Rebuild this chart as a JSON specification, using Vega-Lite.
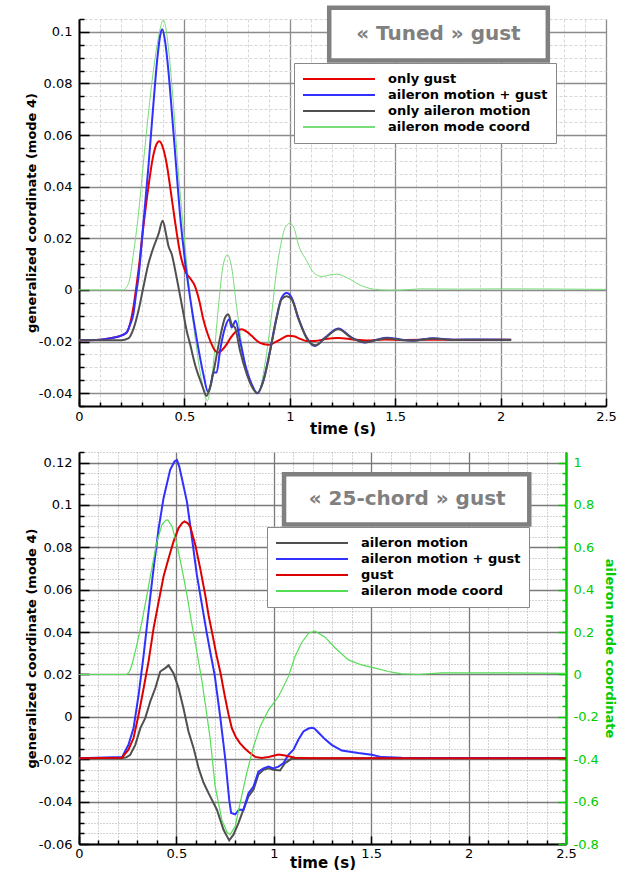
{
  "$schema": "https://vega.github.io/schema/vega-lite/v6.json",
  "background": "white",
  "padding": {"left": 25, "top": 5, "right": 8, "bottom": 0},
  "spacing": 10,
  "config": {
    "font": "DejaVu Sans",
    "view": {"stroke": null},
    "axis": {"labelFont": "DejaVu Sans", "labelFontSize": 13, "labelColor": "#000", "titleFont": "DejaVu Sans", "titleFontWeight": "bold", "titleColor": "#000", "domainColor": "#000", "domainWidth": 2, "tickColor": "#000", "tickWidth": 1.5, "labelFlush": false, "labelOverlap": false, "labelBound": false, "zindex": 0}
  },
  "resolve": {"scale": {"color": "independent"}, "legend": {"color": "independent"}},
  "datasets": {
    "top": [
      {"s":"aileron mode coord","t":0,"v":0},{"s":"aileron mode coord","t":0.21,"v":0},{"s":"aileron mode coord","t":0.225,"v":0.001},{"s":"aileron mode coord","t":0.24,"v":0.004},{"s":"aileron mode coord","t":0.258,"v":0.0139},{"s":"aileron mode coord","t":0.282,"v":0.0294},{"s":"aileron mode coord","t":0.305,"v":0.0488},{"s":"aileron mode coord","t":0.329,"v":0.0682},{"s":"aileron mode coord","t":0.353,"v":0.085},{"s":"aileron mode coord","t":0.377,"v":0.0979},{"s":"aileron mode coord","t":0.4,"v":0.1046},{"s":"aileron mode coord","t":0.412,"v":0.1015},{"s":"aileron mode coord","t":0.424,"v":0.094},{"s":"aileron mode coord","t":0.448,"v":0.072},{"s":"aileron mode coord","t":0.471,"v":0.0462},{"s":"aileron mode coord","t":0.495,"v":0.0242},{"s":"aileron mode coord","t":0.519,"v":0.0035},{"s":"aileron mode coord","t":0.551,"v":-0.0185},{"s":"aileron mode coord","t":0.582,"v":-0.0353},{"s":"aileron mode coord","t":0.609,"v":-0.043},{"s":"aileron mode coord","t":0.623,"v":-0.038},{"s":"aileron mode coord","t":0.637,"v":-0.0288},{"s":"aileron mode coord","t":0.661,"v":-0.0068},{"s":"aileron mode coord","t":0.685,"v":0.01},{"s":"aileron mode coord","t":0.704,"v":0.0136},{"s":"aileron mode coord","t":0.724,"v":0.0087},{"s":"aileron mode coord","t":0.748,"v":-0.0068},{"s":"aileron mode coord","t":0.772,"v":-0.021},{"s":"aileron mode coord","t":0.796,"v":-0.0314},{"s":"aileron mode coord","t":0.827,"v":-0.0379},{"s":"aileron mode coord","t":0.851,"v":-0.0401},{"s":"aileron mode coord","t":0.866,"v":-0.036},{"s":"aileron mode coord","t":0.882,"v":-0.0288},{"s":"aileron mode coord","t":0.914,"v":-0.0094},{"s":"aileron mode coord","t":0.937,"v":0.0074},{"s":"aileron mode coord","t":0.961,"v":0.019},{"s":"aileron mode coord","t":0.98,"v":0.0245},{"s":"aileron mode coord","t":1.0,"v":0.0258},{"s":"aileron mode coord","t":1.02,"v":0.024},{"s":"aileron mode coord","t":1.04,"v":0.0178},{"s":"aileron mode coord","t":1.08,"v":0.0113},{"s":"aileron mode coord","t":1.112,"v":0.0068},{"s":"aileron mode coord","t":1.151,"v":0.0052},{"s":"aileron mode coord","t":1.19,"v":0.0058},{"s":"aileron mode coord","t":1.222,"v":0.0061},{"s":"aileron mode coord","t":1.27,"v":0.0048},{"s":"aileron mode coord","t":1.333,"v":0.0019},{"s":"aileron mode coord","t":1.396,"v":0.0003},{"s":"aileron mode coord","t":1.46,"v":-0.0001},{"s":"aileron mode coord","t":1.522,"v":-0.0001},{"s":"aileron mode coord","t":1.617,"v":0.0004},{"s":"aileron mode coord","t":1.8,"v":0.0003},{"s":"aileron mode coord","t":2.0,"v":0.0004},{"s":"aileron mode coord","t":2.5,"v":0.0002},
      {"s":"only gust","t":0,"v":-0.0195},{"s":"only gust","t":0.1,"v":-0.0193},{"s":"only gust","t":0.15,"v":-0.0187},{"s":"only gust","t":0.2,"v":-0.0177},{"s":"only gust","t":0.226,"v":-0.0165},{"s":"only gust","t":0.24,"v":-0.0138},{"s":"only gust","t":0.258,"v":-0.0068},{"s":"only gust","t":0.27,"v":0.0},{"s":"only gust","t":0.282,"v":0.0074},{"s":"only gust","t":0.305,"v":0.0242},{"s":"only gust","t":0.329,"v":0.0397},{"s":"only gust","t":0.349,"v":0.0507},{"s":"only gust","t":0.365,"v":0.0559},{"s":"only gust","t":0.381,"v":0.0576},{"s":"only gust","t":0.4,"v":0.0546},{"s":"only gust","t":0.416,"v":0.0488},{"s":"only gust","t":0.435,"v":0.0384},{"s":"only gust","t":0.455,"v":0.0268},{"s":"only gust","t":0.479,"v":0.0145},{"s":"only gust","t":0.507,"v":0.0067},{"s":"only gust","t":0.527,"v":0.0045},{"s":"only gust","t":0.55,"v":0.0015},{"s":"only gust","t":0.57,"v":-0.004},{"s":"only gust","t":0.59,"v":-0.0115},{"s":"only gust","t":0.61,"v":-0.017},{"s":"only gust","t":0.629,"v":-0.021},{"s":"only gust","t":0.645,"v":-0.0235},{"s":"only gust","t":0.661,"v":-0.0243},{"s":"only gust","t":0.68,"v":-0.0232},{"s":"only gust","t":0.701,"v":-0.021},{"s":"only gust","t":0.72,"v":-0.0185},{"s":"only gust","t":0.74,"v":-0.0165},{"s":"only gust","t":0.772,"v":-0.0153},{"s":"only gust","t":0.795,"v":-0.0162},{"s":"only gust","t":0.819,"v":-0.0178},{"s":"only gust","t":0.845,"v":-0.0198},{"s":"only gust","t":0.874,"v":-0.021},{"s":"only gust","t":0.898,"v":-0.0213},{"s":"only gust","t":0.92,"v":-0.0207},{"s":"only gust","t":0.945,"v":-0.0197},{"s":"only gust","t":0.97,"v":-0.0185},{"s":"only gust","t":0.993,"v":-0.0178},{"s":"only gust","t":1.02,"v":-0.018},{"s":"only gust","t":1.05,"v":-0.019},{"s":"only gust","t":1.08,"v":-0.0198},{"s":"only gust","t":1.12,"v":-0.0198},{"s":"only gust","t":1.17,"v":-0.019},{"s":"only gust","t":1.23,"v":-0.0186},{"s":"only gust","t":1.3,"v":-0.0192},{"s":"only gust","t":1.365,"v":-0.0196},{"s":"only gust","t":1.45,"v":-0.0192},{"s":"only gust","t":1.55,"v":-0.0194},{"s":"only gust","t":1.7,"v":-0.0193},{"s":"only gust","t":1.85,"v":-0.0194},{"s":"only gust","t":2.05,"v":-0.0193},
      {"s":"aileron motion + gust","t":0,"v":-0.0195},{"s":"aileron motion + gust","t":0.1,"v":-0.0193},{"s":"aileron motion + gust","t":0.15,"v":-0.0187},{"s":"aileron motion + gust","t":0.2,"v":-0.0177},{"s":"aileron motion + gust","t":0.226,"v":-0.0165},{"s":"aileron motion + gust","t":0.242,"v":-0.0135},{"s":"aileron motion + gust","t":0.258,"v":-0.0094},{"s":"aileron motion + gust","t":0.27,"v":-0.002},{"s":"aileron motion + gust","t":0.282,"v":0.0048},{"s":"aileron motion + gust","t":0.305,"v":0.0255},{"s":"aileron motion + gust","t":0.329,"v":0.0475},{"s":"aileron motion + gust","t":0.353,"v":0.0721},{"s":"aileron motion + gust","t":0.372,"v":0.09},{"s":"aileron motion + gust","t":0.385,"v":0.0985},{"s":"aileron motion + gust","t":0.395,"v":0.101},{"s":"aileron motion + gust","t":0.408,"v":0.0966},{"s":"aileron motion + gust","t":0.424,"v":0.085},{"s":"aileron motion + gust","t":0.44,"v":0.0695},{"s":"aileron motion + gust","t":0.46,"v":0.0488},{"s":"aileron motion + gust","t":0.479,"v":0.0294},{"s":"aileron motion + gust","t":0.503,"v":0.0113},{"s":"aileron motion + gust","t":0.527,"v":-0.003},{"s":"aileron motion + gust","t":0.558,"v":-0.0188},{"s":"aileron motion + gust","t":0.59,"v":-0.0327},{"s":"aileron motion + gust","t":0.612,"v":-0.0395},{"s":"aileron motion + gust","t":0.625,"v":-0.037},{"s":"aileron motion + gust","t":0.637,"v":-0.032},{"s":"aileron motion + gust","t":0.653,"v":-0.032},{"s":"aileron motion + gust","t":0.669,"v":-0.0236},{"s":"aileron motion + gust","t":0.693,"v":-0.0146},{"s":"aileron motion + gust","t":0.713,"v":-0.0114},{"s":"aileron motion + gust","t":0.724,"v":-0.0146},{"s":"aileron motion + gust","t":0.743,"v":-0.012},{"s":"aileron motion + gust","t":0.764,"v":-0.0197},{"s":"aileron motion + gust","t":0.788,"v":-0.0288},{"s":"aileron motion + gust","t":0.819,"v":-0.0365},{"s":"aileron motion + gust","t":0.846,"v":-0.0401},{"s":"aileron motion + gust","t":0.874,"v":-0.0353},{"s":"aileron motion + gust","t":0.906,"v":-0.0236},{"s":"aileron motion + gust","t":0.937,"v":-0.0107},{"s":"aileron motion + gust","t":0.961,"v":-0.003},{"s":"aileron motion + gust","t":0.985,"v":-0.0012},{"s":"aileron motion + gust","t":1.009,"v":-0.003},{"s":"aileron motion + gust","t":1.04,"v":-0.0107},{"s":"aileron motion + gust","t":1.08,"v":-0.0185},{"s":"aileron motion + gust","t":1.12,"v":-0.0217},{"s":"aileron motion + gust","t":1.167,"v":-0.0185},{"s":"aileron motion + gust","t":1.23,"v":-0.015},{"s":"aileron motion + gust","t":1.294,"v":-0.0185},{"s":"aileron motion + gust","t":1.357,"v":-0.0204},{"s":"aileron motion + gust","t":1.412,"v":-0.0193},{"s":"aileron motion + gust","t":1.46,"v":-0.0185},{"s":"aileron motion + gust","t":1.54,"v":-0.0194},{"s":"aileron motion + gust","t":1.586,"v":-0.0196},{"s":"aileron motion + gust","t":1.68,"v":-0.0187},{"s":"aileron motion + gust","t":1.776,"v":-0.0193},{"s":"aileron motion + gust","t":1.9,"v":-0.0192},{"s":"aileron motion + gust","t":2.05,"v":-0.0193},
      {"s":"only aileron motion","t":0,"v":-0.0195},{"s":"only aileron motion","t":0.2,"v":-0.0195},{"s":"only aileron motion","t":0.234,"v":-0.0188},{"s":"only aileron motion","t":0.258,"v":-0.0152},{"s":"only aileron motion","t":0.282,"v":-0.0081},{"s":"only aileron motion","t":0.305,"v":0.0009},{"s":"only aileron motion","t":0.329,"v":0.01},{"s":"only aileron motion","t":0.353,"v":0.0164},{"s":"only aileron motion","t":0.377,"v":0.0216},{"s":"only aileron motion","t":0.397,"v":0.0268},{"s":"only aileron motion","t":0.413,"v":0.0216},{"s":"only aileron motion","t":0.424,"v":0.0171},{"s":"only aileron motion","t":0.44,"v":0.0138},{"s":"only aileron motion","t":0.46,"v":0.0061},{"s":"only aileron motion","t":0.479,"v":-0.002},{"s":"only aileron motion","t":0.495,"v":-0.009},{"s":"only aileron motion","t":0.511,"v":-0.0159},{"s":"only aileron motion","t":0.527,"v":-0.021},{"s":"only aileron motion","t":0.55,"v":-0.0288},{"s":"only aileron motion","t":0.582,"v":-0.0365},{"s":"only aileron motion","t":0.605,"v":-0.0411},{"s":"only aileron motion","t":0.617,"v":-0.039},{"s":"only aileron motion","t":0.629,"v":-0.0353},{"s":"only aileron motion","t":0.645,"v":-0.0288},{"s":"only aileron motion","t":0.669,"v":-0.0185},{"s":"only aileron motion","t":0.693,"v":-0.0107},{"s":"only aileron motion","t":0.708,"v":-0.0094},{"s":"only aileron motion","t":0.724,"v":-0.0133},{"s":"only aileron motion","t":0.74,"v":-0.0146},{"s":"only aileron motion","t":0.764,"v":-0.0236},{"s":"only aileron motion","t":0.796,"v":-0.0327},{"s":"only aileron motion","t":0.827,"v":-0.0385},{"s":"only aileron motion","t":0.846,"v":-0.04},{"s":"only aileron motion","t":0.874,"v":-0.0355},{"s":"only aileron motion","t":0.906,"v":-0.024},{"s":"only aileron motion","t":0.937,"v":-0.0112},{"s":"only aileron motion","t":0.961,"v":-0.0037},{"s":"only aileron motion","t":0.985,"v":-0.0025},{"s":"only aileron motion","t":1.009,"v":-0.0037},{"s":"only aileron motion","t":1.04,"v":-0.011},{"s":"only aileron motion","t":1.08,"v":-0.0187},{"s":"only aileron motion","t":1.12,"v":-0.0215},{"s":"only aileron motion","t":1.167,"v":-0.0187},{"s":"only aileron motion","t":1.23,"v":-0.0153},{"s":"only aileron motion","t":1.294,"v":-0.0187},{"s":"only aileron motion","t":1.357,"v":-0.0203},{"s":"only aileron motion","t":1.412,"v":-0.0194},{"s":"only aileron motion","t":1.46,"v":-0.0187},{"s":"only aileron motion","t":1.54,"v":-0.0195},{"s":"only aileron motion","t":1.586,"v":-0.0197},{"s":"only aileron motion","t":1.68,"v":-0.0188},{"s":"only aileron motion","t":1.776,"v":-0.0194},{"s":"only aileron motion","t":1.9,"v":-0.0193},{"s":"only aileron motion","t":2.05,"v":-0.0194}
    ],
    "bottom": [
      {"s":"aileron motion","t":0,"v":-0.0195},{"s":"aileron motion","t":0.22,"v":-0.0195},{"s":"aileron motion","t":0.245,"v":-0.019},{"s":"aileron motion","t":0.263,"v":-0.0179},{"s":"aileron motion","t":0.289,"v":-0.0132},{"s":"aileron motion","t":0.315,"v":-0.0053},{"s":"aileron motion","t":0.34,"v":-0.0006},{"s":"aileron motion","t":0.366,"v":0.0073},{"s":"aileron motion","t":0.392,"v":0.0136},{"s":"aileron motion","t":0.417,"v":0.0214},{"s":"aileron motion","t":0.443,"v":0.023},{"s":"aileron motion","t":0.46,"v":0.0243},{"s":"aileron motion","t":0.485,"v":0.0206},{"s":"aileron motion","t":0.511,"v":0.0136},{"s":"aileron motion","t":0.536,"v":0.0042},{"s":"aileron motion","t":0.562,"v":-0.0069},{"s":"aileron motion","t":0.588,"v":-0.0147},{"s":"aileron motion","t":0.614,"v":-0.0242},{"s":"aileron motion","t":0.639,"v":-0.031},{"s":"aileron motion","t":0.665,"v":-0.036},{"s":"aileron motion","t":0.708,"v":-0.0438},{"s":"aileron motion","t":0.742,"v":-0.0533},{"s":"aileron motion","t":0.771,"v":-0.0583},{"s":"aileron motion","t":0.793,"v":-0.0556},{"s":"aileron motion","t":0.819,"v":-0.05},{"s":"aileron motion","t":0.844,"v":-0.0438},{"s":"aileron motion","t":0.87,"v":-0.0375},{"s":"aileron motion","t":0.896,"v":-0.0343},{"s":"aileron motion","t":0.921,"v":-0.0272},{"s":"aileron motion","t":0.947,"v":-0.025},{"s":"aileron motion","t":0.973,"v":-0.0243},{"s":"aileron motion","t":0.998,"v":-0.025},{"s":"aileron motion","t":1.032,"v":-0.0253},{"s":"aileron motion","t":1.058,"v":-0.0218},{"s":"aileron motion","t":1.09,"v":-0.0198},{"s":"aileron motion","t":1.2,"v":-0.0195},{"s":"aileron motion","t":2.5,"v":-0.0195},
      {"s":"aileron motion + gust","t":0,"v":-0.0195},{"s":"aileron motion + gust","t":0.221,"v":-0.019},{"s":"aileron motion + gust","t":0.254,"v":-0.0132},{"s":"aileron motion + gust","t":0.28,"v":-0.0053},{"s":"aileron motion + gust","t":0.306,"v":0.0104},{"s":"aileron motion + gust","t":0.332,"v":0.0293},{"s":"aileron motion + gust","t":0.357,"v":0.0497},{"s":"aileron motion + gust","t":0.383,"v":0.0702},{"s":"aileron motion + gust","t":0.409,"v":0.089},{"s":"aileron motion + gust","t":0.434,"v":0.1032},{"s":"aileron motion + gust","t":0.468,"v":0.1166},{"s":"aileron motion + gust","t":0.49,"v":0.1205},{"s":"aileron motion + gust","t":0.503,"v":0.1212},{"s":"aileron motion + gust","t":0.515,"v":0.118},{"s":"aileron motion + gust","t":0.528,"v":0.1126},{"s":"aileron motion + gust","t":0.554,"v":0.1016},{"s":"aileron motion + gust","t":0.58,"v":0.0843},{"s":"aileron motion + gust","t":0.605,"v":0.067},{"s":"aileron motion + gust","t":0.631,"v":0.053},{"s":"aileron motion + gust","t":0.655,"v":0.04},{"s":"aileron motion + gust","t":0.675,"v":0.03},{"s":"aileron motion + gust","t":0.696,"v":0.02},{"s":"aileron motion + gust","t":0.725,"v":0.0},{"s":"aileron motion + gust","t":0.751,"v":-0.02},{"s":"aileron motion + gust","t":0.771,"v":-0.0391},{"s":"aileron motion + gust","t":0.781,"v":-0.0454},{"s":"aileron motion + gust","t":0.802,"v":-0.046},{"s":"aileron motion + gust","t":0.822,"v":-0.0437},{"s":"aileron motion + gust","t":0.844,"v":-0.044},{"s":"aileron motion + gust","t":0.87,"v":-0.036},{"s":"aileron motion + gust","t":0.896,"v":-0.0329},{"s":"aileron motion + gust","t":0.921,"v":-0.0258},{"s":"aileron motion + gust","t":0.947,"v":-0.0243},{"s":"aileron motion + gust","t":0.973,"v":-0.0235},{"s":"aileron motion + gust","t":0.998,"v":-0.0243},{"s":"aileron motion + gust","t":1.024,"v":-0.0235},{"s":"aileron motion + gust","t":1.05,"v":-0.0218},{"s":"aileron motion + gust","t":1.075,"v":-0.0179},{"s":"aileron motion + gust","t":1.101,"v":-0.0155},{"s":"aileron motion + gust","t":1.126,"v":-0.0108},{"s":"aileron motion + gust","t":1.152,"v":-0.0069},{"s":"aileron motion + gust","t":1.178,"v":-0.0055},{"s":"aileron motion + gust","t":1.195,"v":-0.0052},{"s":"aileron motion + gust","t":1.208,"v":-0.0054},{"s":"aileron motion + gust","t":1.23,"v":-0.0075},{"s":"aileron motion + gust","t":1.262,"v":-0.0105},{"s":"aileron motion + gust","t":1.297,"v":-0.0132},{"s":"aileron motion + gust","t":1.349,"v":-0.0159},{"s":"aileron motion + gust","t":1.434,"v":-0.0171},{"s":"aileron motion + gust","t":1.503,"v":-0.0179},{"s":"aileron motion + gust","t":1.554,"v":-0.019},{"s":"aileron motion + gust","t":1.656,"v":-0.0193},{"s":"aileron motion + gust","t":2.5,"v":-0.0194},
      {"s":"gust","t":0,"v":-0.0195},{"s":"gust","t":0.22,"v":-0.0193},{"s":"gust","t":0.254,"v":-0.0155},{"s":"gust","t":0.28,"v":-0.01},{"s":"gust","t":0.306,"v":0.001},{"s":"gust","t":0.332,"v":0.0136},{"s":"gust","t":0.357,"v":0.0261},{"s":"gust","t":0.383,"v":0.0419},{"s":"gust","t":0.409,"v":0.0544},{"s":"gust","t":0.434,"v":0.0662},{"s":"gust","t":0.46,"v":0.0749},{"s":"gust","t":0.485,"v":0.0827},{"s":"gust","t":0.511,"v":0.0891},{"s":"gust","t":0.53,"v":0.0915},{"s":"gust","t":0.542,"v":0.0922},{"s":"gust","t":0.557,"v":0.0915},{"s":"gust","t":0.571,"v":0.0898},{"s":"gust","t":0.597,"v":0.0811},{"s":"gust","t":0.622,"v":0.0702},{"s":"gust","t":0.648,"v":0.0576},{"s":"gust","t":0.665,"v":0.048},{"s":"gust","t":0.685,"v":0.039},{"s":"gust","t":0.705,"v":0.0295},{"s":"gust","t":0.728,"v":0.02},{"s":"gust","t":0.748,"v":0.01},{"s":"gust","t":0.768,"v":0.001},{"s":"gust","t":0.785,"v":-0.0055},{"s":"gust","t":0.805,"v":-0.0095},{"s":"gust","t":0.827,"v":-0.0125},{"s":"gust","t":0.85,"v":-0.0148},{"s":"gust","t":0.87,"v":-0.0165},{"s":"gust","t":0.904,"v":-0.0189},{"s":"gust","t":0.938,"v":-0.0194},{"s":"gust","t":0.973,"v":-0.0189},{"s":"gust","t":1.024,"v":-0.0178},{"s":"gust","t":1.058,"v":-0.0182},{"s":"gust","t":1.109,"v":-0.0193},{"s":"gust","t":1.2,"v":-0.0195},{"s":"gust","t":2.5,"v":-0.0195},
      {"s":"aileron mode coord","t":0,"v":0},{"s":"aileron mode coord","t":0.246,"v":0},{"s":"aileron mode coord","t":0.26,"v":0.015},{"s":"aileron mode coord","t":0.272,"v":0.046},{"s":"aileron mode coord","t":0.297,"v":0.14},{"s":"aileron mode coord","t":0.323,"v":0.25},{"s":"aileron mode coord","t":0.349,"v":0.376},{"s":"aileron mode coord","t":0.374,"v":0.502},{"s":"aileron mode coord","t":0.4,"v":0.627},{"s":"aileron mode coord","t":0.426,"v":0.706},{"s":"aileron mode coord","t":0.445,"v":0.728},{"s":"aileron mode coord","t":0.456,"v":0.73},{"s":"aileron mode coord","t":0.477,"v":0.7},{"s":"aileron mode coord","t":0.503,"v":0.612},{"s":"aileron mode coord","t":0.528,"v":0.502},{"s":"aileron mode coord","t":0.554,"v":0.376},{"s":"aileron mode coord","t":0.58,"v":0.234},{"s":"aileron mode coord","t":0.605,"v":0.108},{"s":"aileron mode coord","t":0.631,"v":-0.03},{"s":"aileron mode coord","t":0.65,"v":-0.15},{"s":"aileron mode coord","t":0.673,"v":-0.3},{"s":"aileron mode coord","t":0.699,"v":-0.528},{"s":"aileron mode coord","t":0.733,"v":-0.685},{"s":"aileron mode coord","t":0.76,"v":-0.745},{"s":"aileron mode coord","t":0.776,"v":-0.756},{"s":"aileron mode coord","t":0.802,"v":-0.717},{"s":"aileron mode coord","t":0.827,"v":-0.607},{"s":"aileron mode coord","t":0.861,"v":-0.465},{"s":"aileron mode coord","t":0.896,"v":-0.34},{"s":"aileron mode coord","t":0.93,"v":-0.245},{"s":"aileron mode coord","t":0.973,"v":-0.167},{"s":"aileron mode coord","t":1.024,"v":-0.104},{"s":"aileron mode coord","t":1.075,"v":-0.009},{"s":"aileron mode coord","t":1.109,"v":0.085},{"s":"aileron mode coord","t":1.143,"v":0.15},{"s":"aileron mode coord","t":1.178,"v":0.195},{"s":"aileron mode coord","t":1.212,"v":0.204},{"s":"aileron mode coord","t":1.263,"v":0.176},{"s":"aileron mode coord","t":1.315,"v":0.125},{"s":"aileron mode coord","t":1.383,"v":0.069},{"s":"aileron mode coord","t":1.451,"v":0.045},{"s":"aileron mode coord","t":1.52,"v":0.03},{"s":"aileron mode coord","t":1.588,"v":0.014},{"s":"aileron mode coord","t":1.656,"v":0.003},{"s":"aileron mode coord","t":1.741,"v":0.0},{"s":"aileron mode coord","t":1.862,"v":0.008},{"s":"aileron mode coord","t":2.169,"v":0.008},{"s":"aileron mode coord","t":2.5,"v":0.005}
    ]
  },
  "vconcat": [
    {
      "width": 527,
      "height": 387,
      "layer": [
        {
          "encoding": {
            "x": {"field": "t", "type": "quantitative", "scale": {"domain": [0, 2.5], "nice": false, "zero": false},
              "axis": {"title": "time (s)", "titleFontSize": 15, "titlePadding": -6, "labelOverlap": false, "labelFlush": false, "zindex": 0, "values": [0,0.1,0.2,0.3,0.4,0.5,0.6,0.7,0.8,0.9,1,1.1,1.2,1.3,1.4,1.5,1.6,1.7,1.8,1.9,2,2.1,2.2,2.3,2.4,2.5], "grid": true, "gridColor": {"condition": {"test": "abs(datum.value*2-round(datum.value*2))<0.001", "value": "#8c8c8c"}, "value": "#d6d6d6"}, "gridDash": {"condition": {"test": "abs(datum.value*2-round(datum.value*2))<0.001", "value": []}, "value": [3, 2]}, "gridWidth": {"condition": {"test": "abs(datum.value*2-round(datum.value*2))<0.001", "value": 1.3}, "value": 1}, "tickSize": {"condition": {"test": "abs(datum.value*2-round(datum.value*2))<0.001", "value": -8}, "value": -4}, "labelPadding": 12, "labelExpr": "abs(datum.value*2-round(datum.value*2))<0.001 ? ''+datum.value : ''"}},
            "y": {"field": "v", "type": "quantitative", "scale": {"domain": [-0.045, 0.105], "nice": false, "zero": false},
              "axis": {"title": "generalized coordinate (mode 4)", "titleFontSize": 13, "titlePadding": 0, "labelOverlap": false, "zindex": 0, "values": [-0.045,-0.04,-0.035,-0.03,-0.025,-0.02,-0.015,-0.01,-0.005,0,0.005,0.01,0.015,0.02,0.025,0.03,0.035,0.04,0.045,0.05,0.055,0.06,0.065,0.07,0.075,0.08,0.085,0.09,0.095,0.1,0.105], "grid": true, "gridColor": {"condition": {"test": "abs(datum.value*50-round(datum.value*50))<0.001", "value": "#8c8c8c"}, "value": "#d6d6d6"}, "gridDash": {"condition": {"test": "abs(datum.value*50-round(datum.value*50))<0.001", "value": []}, "value": [3, 2]}, "gridWidth": {"condition": {"test": "abs(datum.value*50-round(datum.value*50))<0.001", "value": 1.3}, "value": 1}, "tickSize": {"condition": {"test": "abs(datum.value*50-round(datum.value*50))<0.001", "value": -10}, "value": -5}, "labelPadding": 17, "labelExpr": "abs(datum.value*50-round(datum.value*50))<0.001 ? ''+datum.value : ''"}}
          },
          "layer": [
            {
              "data": {"name": "top"},
              "transform": [{"filter": "datum.s === 'aileron mode coord'"}],
              "mark": {"type": "line", "clip": true, "interpolate": "monotone", "strokeWidth": 1},
              "encoding": {
                "color": {"field": "s", "type": "nominal",
                  "scale": {"domain": ["only gust", "aileron motion + gust", "only aileron motion", "aileron mode coord"], "range": ["#e60000", "#3030ff", "#505050", "#78dc78"]},
                  "legend": {"title": null, "orient": "none", "legendX": 215, "legendY": 44, "direction": "vertical", "symbolType": "stroke", "symbolSize": 5184, "clipHeight": 16, "labelFont": "DejaVu Sans", "labelFontWeight": "bold", "labelFontSize": 13, "labelColor": "#000", "labelOffset": 12, "padding": 8, "rowPadding": 0, "strokeColor": "#888", "fillColor": "white", "symbolStrokeWidth": 2}}
              }
            },
            {
              "data": {"name": "top"},
              "transform": [{"filter": "datum.s !== 'aileron mode coord'"}],
              "mark": {"type": "line", "clip": true, "interpolate": "monotone", "strokeWidth": 2},
              "encoding": {"color": {"field": "s", "type": "nominal"}}
            }
          ]
        },
        {
          "data": {"values": [{}]},
          "mark": {"type": "rect", "fill": "white", "stroke": "#808080", "strokeWidth": 4.5, "clip": false},
          "encoding": {
            "x": {"datum": 1.187, "type": "quantitative",
              "axis": {"title": "time (s)", "titleFontSize": 15, "titlePadding": -6, "labelOverlap": false, "labelFlush": false, "zindex": 0, "values": [0,0.1,0.2,0.3,0.4,0.5,0.6,0.7,0.8,0.9,1,1.1,1.2,1.3,1.4,1.5,1.6,1.7,1.8,1.9,2,2.1,2.2,2.3,2.4,2.5], "grid": true, "gridColor": {"condition": {"test": "abs(datum.value*2-round(datum.value*2))<0.001", "value": "#8c8c8c"}, "value": "#d6d6d6"}, "gridDash": {"condition": {"test": "abs(datum.value*2-round(datum.value*2))<0.001", "value": []}, "value": [3, 2]}, "gridWidth": {"condition": {"test": "abs(datum.value*2-round(datum.value*2))<0.001", "value": 1.3}, "value": 1}, "tickSize": {"condition": {"test": "abs(datum.value*2-round(datum.value*2))<0.001", "value": -8}, "value": -4}, "labelPadding": 12, "labelExpr": "abs(datum.value*2-round(datum.value*2))<0.001 ? ''+datum.value : ''"}},
            "x2": {"datum": 2.224},
            "y": {"datum": 0.10933, "type": "quantitative",
              "axis": {"title": "generalized coordinate (mode 4)", "titleFontSize": 13, "titlePadding": 0, "labelOverlap": false, "zindex": 0, "values": [-0.045,-0.04,-0.035,-0.03,-0.025,-0.02,-0.015,-0.01,-0.005,0,0.005,0.01,0.015,0.02,0.025,0.03,0.035,0.04,0.045,0.05,0.055,0.06,0.065,0.07,0.075,0.08,0.085,0.09,0.095,0.1,0.105], "grid": true, "gridColor": {"condition": {"test": "abs(datum.value*50-round(datum.value*50))<0.001", "value": "#8c8c8c"}, "value": "#d6d6d6"}, "gridDash": {"condition": {"test": "abs(datum.value*50-round(datum.value*50))<0.001", "value": []}, "value": [3, 2]}, "gridWidth": {"condition": {"test": "abs(datum.value*50-round(datum.value*50))<0.001", "value": 1.3}, "value": 1}, "tickSize": {"condition": {"test": "abs(datum.value*50-round(datum.value*50))<0.001", "value": -10}, "value": -5}, "labelPadding": 17, "labelExpr": "abs(datum.value*50-round(datum.value*50))<0.001 ? ''+datum.value : ''"}},
            "y2": {"datum": 0.08896}
          }
        },
        {
          "data": {"values": [{}]},
          "mark": {"type": "text", "font": "DejaVu Sans", "fontWeight": "bold", "fontSize": 20, "color": "#808080", "align": "center", "baseline": "middle"},
          "encoding": {
            "x": {"datum": 1.705, "type": "quantitative",
              "axis": {"title": "time (s)", "titleFontSize": 15, "titlePadding": -6, "labelOverlap": false, "labelFlush": false, "zindex": 0, "values": [0,0.1,0.2,0.3,0.4,0.5,0.6,0.7,0.8,0.9,1,1.1,1.2,1.3,1.4,1.5,1.6,1.7,1.8,1.9,2,2.1,2.2,2.3,2.4,2.5], "grid": true, "gridColor": {"condition": {"test": "abs(datum.value*2-round(datum.value*2))<0.001", "value": "#8c8c8c"}, "value": "#d6d6d6"}, "gridDash": {"condition": {"test": "abs(datum.value*2-round(datum.value*2))<0.001", "value": []}, "value": [3, 2]}, "gridWidth": {"condition": {"test": "abs(datum.value*2-round(datum.value*2))<0.001", "value": 1.3}, "value": 1}, "tickSize": {"condition": {"test": "abs(datum.value*2-round(datum.value*2))<0.001", "value": -8}, "value": -4}, "labelPadding": 12, "labelExpr": "abs(datum.value*2-round(datum.value*2))<0.001 ? ''+datum.value : ''"}},
            "y": {"datum": 0.0993, "type": "quantitative",
              "axis": {"title": "generalized coordinate (mode 4)", "titleFontSize": 13, "titlePadding": 0, "labelOverlap": false, "zindex": 0, "values": [-0.045,-0.04,-0.035,-0.03,-0.025,-0.02,-0.015,-0.01,-0.005,0,0.005,0.01,0.015,0.02,0.025,0.03,0.035,0.04,0.045,0.05,0.055,0.06,0.065,0.07,0.075,0.08,0.085,0.09,0.095,0.1,0.105], "grid": true, "gridColor": {"condition": {"test": "abs(datum.value*50-round(datum.value*50))<0.001", "value": "#8c8c8c"}, "value": "#d6d6d6"}, "gridDash": {"condition": {"test": "abs(datum.value*50-round(datum.value*50))<0.001", "value": []}, "value": [3, 2]}, "gridWidth": {"condition": {"test": "abs(datum.value*50-round(datum.value*50))<0.001", "value": 1.3}, "value": 1}, "tickSize": {"condition": {"test": "abs(datum.value*50-round(datum.value*50))<0.001", "value": -10}, "value": -5}, "labelPadding": 17, "labelExpr": "abs(datum.value*50-round(datum.value*50))<0.001 ? ''+datum.value : ''"}},
            "text": {"value": "« Tuned » gust"}
          }
        }
      ]
    },
    {
      "width": 487,
      "height": 392,
      "layer": [
        {
          "layer": [
            {
              "data": {"name": "bottom"},
              "transform": [{"filter": "datum.s !== 'aileron mode coord'"}],
              "mark": {"type": "line", "clip": true, "strokeWidth": 2},
              "encoding": {
                "x": {"field": "t", "type": "quantitative", "scale": {"domain": [0, 2.5], "nice": false, "zero": false},
                  "axis": {"title": "time (s)", "titleFontSize": 15, "titlePadding": -9, "labelOverlap": false, "labelFlush": false, "zindex": 0, "values": [0,0.1,0.2,0.3,0.4,0.5,0.6,0.7,0.8,0.9,1,1.1,1.2,1.3,1.4,1.5,1.6,1.7,1.8,1.9,2,2.1,2.2,2.3,2.4,2.5], "grid": true, "gridColor": {"condition": {"test": "abs(datum.value*2-round(datum.value*2))<0.001", "value": "#7a7a7a"}, "value": "#a8a8a8"}, "gridDash": {"condition": {"test": "abs(datum.value*2-round(datum.value*2))<0.001", "value": []}, "value": [1, 2]}, "gridWidth": {"condition": {"test": "abs(datum.value*2-round(datum.value*2))<0.001", "value": 1.3}, "value": 1}, "tickSize": {"condition": {"test": "abs(datum.value*2-round(datum.value*2))<0.001", "value": -8}, "value": -4}, "labelPadding": 11, "labelExpr": "abs(datum.value*2-round(datum.value*2))<0.001 ? ''+datum.value : ''"}},
                "y": {"field": "v", "type": "quantitative", "scale": {"domain": [-0.06, 0.125], "nice": false, "zero": false},
                  "axis": {"title": "generalized coordinate (mode 4)", "titleFontSize": 13, "titlePadding": 0, "labelOverlap": false, "zindex": 0, "values": [-0.06,-0.055,-0.05,-0.045,-0.04,-0.035,-0.03,-0.025,-0.02,-0.015,-0.01,-0.005,0,0.005,0.01,0.015,0.02,0.025,0.03,0.035,0.04,0.045,0.05,0.055,0.06,0.065,0.07,0.075,0.08,0.085,0.09,0.095,0.1,0.105,0.11,0.115,0.12,0.125], "grid": true, "gridColor": {"condition": {"test": "abs(datum.value*50-round(datum.value*50))<0.001", "value": "#7a7a7a"}, "value": "#a8a8a8"}, "gridDash": {"condition": {"test": "abs(datum.value*50-round(datum.value*50))<0.001", "value": []}, "value": [1, 2]}, "gridWidth": {"condition": {"test": "abs(datum.value*50-round(datum.value*50))<0.001", "value": 1.3}, "value": 1}, "tickSize": {"condition": {"test": "abs(datum.value*50-round(datum.value*50))<0.001", "value": -10}, "value": -5}, "labelPadding": 17, "labelExpr": "abs(datum.value*50-round(datum.value*50))<0.001 ? ''+datum.value : ''"}},
                "color": {"field": "s", "type": "nominal",
                  "scale": {"domain": ["aileron motion", "aileron motion + gust", "gust", "aileron mode coord"], "range": ["#505050", "#3030ff", "#dd0000", "#55dd55"]},
                  "legend": {"title": null, "orient": "none", "legendX": 188, "legendY": 75, "direction": "vertical", "symbolType": "stroke", "symbolSize": 5184, "clipHeight": 16, "labelFont": "DejaVu Sans", "labelFontWeight": "bold", "labelFontSize": 13, "labelColor": "#000", "labelOffset": 12, "padding": 8, "rowPadding": 0, "strokeColor": "#888", "fillColor": "white", "symbolStrokeWidth": 2}}
              }
            },
            {
              "data": {"values": [{}]},
              "mark": {"type": "rect", "fill": "white", "stroke": "#808080", "strokeWidth": 4.5, "clip": false},
              "encoding": {
                "x": {"datum": 1.0526, "type": "quantitative",
                  "axis": {"title": "time (s)", "titleFontSize": 15, "titlePadding": -9, "labelOverlap": false, "labelFlush": false, "zindex": 0, "values": [0,0.1,0.2,0.3,0.4,0.5,0.6,0.7,0.8,0.9,1,1.1,1.2,1.3,1.4,1.5,1.6,1.7,1.8,1.9,2,2.1,2.2,2.3,2.4,2.5], "grid": true, "gridColor": {"condition": {"test": "abs(datum.value*2-round(datum.value*2))<0.001", "value": "#7a7a7a"}, "value": "#a8a8a8"}, "gridDash": {"condition": {"test": "abs(datum.value*2-round(datum.value*2))<0.001", "value": []}, "value": [1, 2]}, "gridWidth": {"condition": {"test": "abs(datum.value*2-round(datum.value*2))<0.001", "value": 1.3}, "value": 1}, "tickSize": {"condition": {"test": "abs(datum.value*2-round(datum.value*2))<0.001", "value": -8}, "value": -4}, "labelPadding": 11, "labelExpr": "abs(datum.value*2-round(datum.value*2))<0.001 ? ''+datum.value : ''"}},
                "x2": {"datum": 2.3115},
                "y": {"datum": 0.11455, "type": "quantitative",
                  "axis": {"title": "generalized coordinate (mode 4)", "titleFontSize": 13, "titlePadding": 0, "labelOverlap": false, "zindex": 0, "values": [-0.06,-0.055,-0.05,-0.045,-0.04,-0.035,-0.03,-0.025,-0.02,-0.015,-0.01,-0.005,0,0.005,0.01,0.015,0.02,0.025,0.03,0.035,0.04,0.045,0.05,0.055,0.06,0.065,0.07,0.075,0.08,0.085,0.09,0.095,0.1,0.105,0.11,0.115,0.12,0.125], "grid": true, "gridColor": {"condition": {"test": "abs(datum.value*50-round(datum.value*50))<0.001", "value": "#7a7a7a"}, "value": "#a8a8a8"}, "gridDash": {"condition": {"test": "abs(datum.value*50-round(datum.value*50))<0.001", "value": []}, "value": [1, 2]}, "gridWidth": {"condition": {"test": "abs(datum.value*50-round(datum.value*50))<0.001", "value": 1.3}, "value": 1}, "tickSize": {"condition": {"test": "abs(datum.value*50-round(datum.value*50))<0.001", "value": -10}, "value": -5}, "labelPadding": 17, "labelExpr": "abs(datum.value*50-round(datum.value*50))<0.001 ? ''+datum.value : ''"}},
                "y2": {"datum": 0.09073}
              }
            },
            {
              "data": {"values": [{}]},
              "mark": {"type": "text", "font": "DejaVu Sans", "fontWeight": "bold", "fontSize": 20, "color": "#808080", "align": "center", "baseline": "middle"},
              "encoding": {
                "x": {"datum": 1.6846, "type": "quantitative",
                  "axis": {"title": "time (s)", "titleFontSize": 15, "titlePadding": -9, "labelOverlap": false, "labelFlush": false, "zindex": 0, "values": [0,0.1,0.2,0.3,0.4,0.5,0.6,0.7,0.8,0.9,1,1.1,1.2,1.3,1.4,1.5,1.6,1.7,1.8,1.9,2,2.1,2.2,2.3,2.4,2.5], "grid": true, "gridColor": {"condition": {"test": "abs(datum.value*2-round(datum.value*2))<0.001", "value": "#7a7a7a"}, "value": "#a8a8a8"}, "gridDash": {"condition": {"test": "abs(datum.value*2-round(datum.value*2))<0.001", "value": []}, "value": [1, 2]}, "gridWidth": {"condition": {"test": "abs(datum.value*2-round(datum.value*2))<0.001", "value": 1.3}, "value": 1}, "tickSize": {"condition": {"test": "abs(datum.value*2-round(datum.value*2))<0.001", "value": -8}, "value": -4}, "labelPadding": 11, "labelExpr": "abs(datum.value*2-round(datum.value*2))<0.001 ? ''+datum.value : ''"}},
                "y": {"datum": 0.10288, "type": "quantitative",
                  "axis": {"title": "generalized coordinate (mode 4)", "titleFontSize": 13, "titlePadding": 0, "labelOverlap": false, "zindex": 0, "values": [-0.06,-0.055,-0.05,-0.045,-0.04,-0.035,-0.03,-0.025,-0.02,-0.015,-0.01,-0.005,0,0.005,0.01,0.015,0.02,0.025,0.03,0.035,0.04,0.045,0.05,0.055,0.06,0.065,0.07,0.075,0.08,0.085,0.09,0.095,0.1,0.105,0.11,0.115,0.12,0.125], "grid": true, "gridColor": {"condition": {"test": "abs(datum.value*50-round(datum.value*50))<0.001", "value": "#7a7a7a"}, "value": "#a8a8a8"}, "gridDash": {"condition": {"test": "abs(datum.value*50-round(datum.value*50))<0.001", "value": []}, "value": [1, 2]}, "gridWidth": {"condition": {"test": "abs(datum.value*50-round(datum.value*50))<0.001", "value": 1.3}, "value": 1}, "tickSize": {"condition": {"test": "abs(datum.value*50-round(datum.value*50))<0.001", "value": -10}, "value": -5}, "labelPadding": 17, "labelExpr": "abs(datum.value*50-round(datum.value*50))<0.001 ? ''+datum.value : ''"}},
                "text": {"value": "« 25-chord » gust"}
              }
            }
          ]
        },
        {
          "data": {"name": "bottom"},
          "transform": [{"filter": "datum.s === 'aileron mode coord'"}],
          "mark": {"type": "line", "clip": true, "strokeWidth": 1.2},
          "encoding": {
            "x": {"field": "t", "type": "quantitative", "scale": {"domain": [0, 2.5], "nice": false, "zero": false},
              "axis": {"title": "time (s)", "titleFontSize": 15, "titlePadding": -9, "labelOverlap": false, "labelFlush": false, "zindex": 0, "values": [0,0.1,0.2,0.3,0.4,0.5,0.6,0.7,0.8,0.9,1,1.1,1.2,1.3,1.4,1.5,1.6,1.7,1.8,1.9,2,2.1,2.2,2.3,2.4,2.5], "grid": true, "gridColor": {"condition": {"test": "abs(datum.value*2-round(datum.value*2))<0.001", "value": "#7a7a7a"}, "value": "#a8a8a8"}, "gridDash": {"condition": {"test": "abs(datum.value*2-round(datum.value*2))<0.001", "value": []}, "value": [1, 2]}, "gridWidth": {"condition": {"test": "abs(datum.value*2-round(datum.value*2))<0.001", "value": 1.3}, "value": 1}, "tickSize": {"condition": {"test": "abs(datum.value*2-round(datum.value*2))<0.001", "value": -8}, "value": -4}, "labelPadding": 11, "labelExpr": "abs(datum.value*2-round(datum.value*2))<0.001 ? ''+datum.value : ''"}},
            "y": {"field": "v", "type": "quantitative", "scale": {"domain": [-0.8, 1.05], "nice": false, "zero": false},
              "axis": {"orient": "right", "title": "aileron mode coordinate", "titleFontSize": 13, "titleColor": "#00cc00", "titlePadding": 4, "labelOverlap": false, "zindex": 0,
                "values": [-0.8,-0.75,-0.7,-0.65,-0.6,-0.55,-0.5,-0.45,-0.4,-0.35,-0.3,-0.25,-0.2,-0.15,-0.1,-0.05,0,0.05,0.1,0.15,0.2,0.25,0.3,0.35,0.4,0.45,0.5,0.55,0.6,0.65,0.7,0.75,0.8,0.85,0.9,0.95,1],
                "grid": false, "domainColor": "#00cc00", "domainWidth": 2.5, "tickColor": "#00cc00", "labelColor": "#00cc00",
                "tickSize": {"condition": {"test": "abs(datum.value*5-round(datum.value*5))<0.001", "value": -8}, "value": -4},
                "labelPadding": 15,
                "labelExpr": "abs(datum.value*5-round(datum.value*5))<0.001 ? ''+datum.value : ''"}},
            "color": {"field": "s", "type": "nominal"}
          }
        }
      ],
      "resolve": {"scale": {"y": "independent"}}
    }
  ]
}
